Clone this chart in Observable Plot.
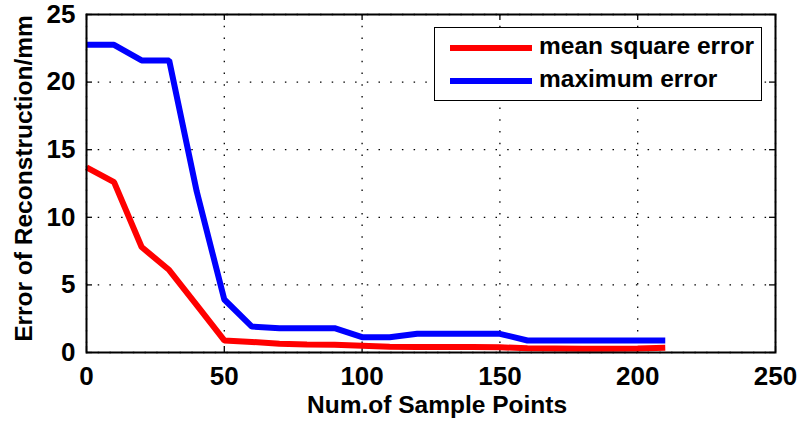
<!DOCTYPE html>
<html>
<head>
<meta charset="utf-8">
<script src="https://cdn.jsdelivr.net/npm/d3@7"></script>
<script src="https://cdn.jsdelivr.net/npm/@observablehq/plot@0.6"></script>
<style>
  html, body { margin: 0; padding: 0; background: #fff; }
  #wrap { position: relative; width: 798px; height: 425px; font-family: "Liberation Sans", Arial, sans-serif; font-weight: bold; }
  #legend { position: absolute; left: 434px; top: 27px; width: 326px; height: 72px; border: 1.5px solid #000; background: #fff; }
  .lg-row { position: absolute; left: 0; height: 30px; width: 100%; }
  .lg-line { position: absolute; left: 15px; width: 82px; height: 6px; }
  .lg-text { position: absolute; left: 104px; font-size: 24.5px; line-height: 24px; color: #000; white-space: nowrap; }
</style>
</head>
<body>
<div id="wrap"></div>
<script>
// Data
const samplePoints = [0, 10, 20, 30, 40, 50, 60, 70, 80, 90, 100, 110, 120, 130, 140, 150, 160, 170, 180, 190, 200, 210];
const meanSquareError = [13.7, 12.6, 7.8, 6.1, 3.5, 0.89, 0.78, 0.64, 0.6, 0.57, 0.5, 0.42, 0.4, 0.4, 0.4, 0.38, 0.32, 0.3, 0.28, 0.28, 0.3, 0.35];
const maximumError = [22.76, 22.76, 21.6, 21.6, 11.9, 3.92, 1.92, 1.8, 1.8, 1.8, 1.13, 1.13, 1.38, 1.38, 1.38, 1.38, 0.89, 0.89, 0.89, 0.89, 0.89, 0.89];
const xTicks = [0, 50, 100, 150, 200, 250];
const yTicks = [0, 5, 10, 15, 20, 25];
const seriesNames = ["mean square error", "maximum error"];
const seriesColors = ["#ff0000", "#0000ff"];
const xLabel = "Num.of Sample Points";
const yLabel = "Error of Reconstruction/mm";

const W = 798, H = 425;
const mL = 86, mR = 23, mT = 14, mB = 73;
const innerW = W - mL - mR, innerH = H - mT - mB;

const rows = [];
samplePoints.forEach((x, i) => {
  rows.push({x, y: meanSquareError[i], s: seriesNames[0]});
});
samplePoints.forEach((x, i) => {
  rows.push({x, y: maximumError[i], s: seriesNames[1]});
});

const tickLen = 6;
const chart = Plot.plot({
  width: W, height: H,
  marginLeft: mL, marginRight: mR, marginTop: mT, marginBottom: mB,
  style: {fontFamily: "'Liberation Sans', Arial, sans-serif", fontSize: "24px", fontWeight: "bold", background: "#fff", color: "#000", overflow: "visible"},
  x: {domain: [0, 250], ticks: xTicks, label: null},
  y: {domain: [0, 25], ticks: yTicks, label: null},
  color: {domain: seriesNames, range: seriesColors},
  marks: [
    Plot.gridX(xTicks, {stroke: "#000", strokeOpacity: 1, strokeWidth: 1.3, strokeDasharray: "1.5,10.2"}),
    Plot.gridY(yTicks, {stroke: "#000", strokeOpacity: 1, strokeWidth: 1.3, strokeDasharray: "1.5,10.2"}),
    // inward ticks on all four sides
    Plot.tickX(xTicks, {x: d => d, stroke: "#000", strokeWidth: 1.3, insetTop: innerH - tickLen}),
    Plot.tickX(xTicks, {x: d => d, stroke: "#000", strokeWidth: 1.3, insetBottom: innerH - tickLen}),
    Plot.tickY(yTicks, {y: d => d, stroke: "#000", strokeWidth: 1.3, insetRight: innerW - tickLen}),
    Plot.tickY(yTicks, {y: d => d, stroke: "#000", strokeWidth: 1.3, insetLeft: innerW - tickLen}),
    Plot.line(rows, {x: "x", y: "y", z: "s", stroke: "s", strokeWidth: 6, strokeLinejoin: "miter", strokeLinecap: "butt"}),
    Plot.frame({stroke: "#000", strokeWidth: 2}),
    Plot.axisX(xTicks, {anchor: "bottom", tickSize: 0, tickPadding: 14, label: null, fill: "#000", fontSize: 26}),
    Plot.axisY(yTicks, {anchor: "left", tickSize: 0, tickPadding: 11, label: null, fill: "#000", fontSize: 26}),
    Plot.text([xLabel], {frameAnchor: "bottom", dx: 6, dy: 53, lineAnchor: "middle", textAnchor: "middle", fill: "#000", fontSize: 24.5}),
    Plot.text([yLabel], {frameAnchor: "left", rotate: -90, dx: -62, dy: -5, lineAnchor: "middle", textAnchor: "middle", fill: "#000", fontSize: 24.5})
  ]
});

const wrap = document.getElementById("wrap");
wrap.appendChild(chart);

// Legend (inside the plot area, top right)
const legend = document.createElement("div");
legend.id = "legend";
const rowTops = [6, 39];
seriesNames.forEach((name, i) => {
  const row = document.createElement("div");
  row.className = "lg-row";
  row.style.top = rowTops[i] + "px";
  const ln = document.createElement("div");
  ln.className = "lg-line";
  ln.style.background = seriesColors[i];
  ln.style.top = "11px";
  const tx = document.createElement("div");
  tx.className = "lg-text";
  tx.style.top = "0px";
  tx.textContent = name;
  row.appendChild(ln);
  row.appendChild(tx);
  legend.appendChild(row);
});
wrap.appendChild(legend);
</script>
</body>
</html>
